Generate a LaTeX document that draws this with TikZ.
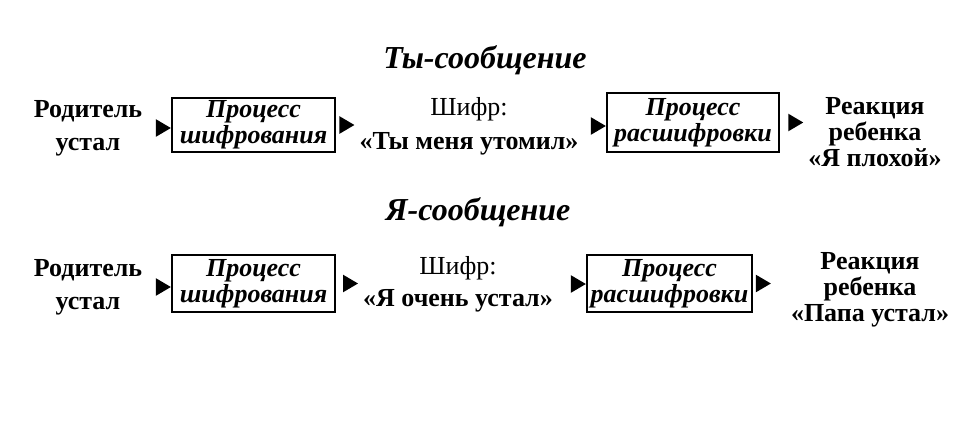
\documentclass[tikz,border=0pt]{standalone}
\usepackage{fontspec}
\setmainfont{Liberation Serif}
\usetikzlibrary{arrows.meta}

\begin{document}
\begin{tikzpicture}[x=25pt,y=25pt,line width=1.1pt,
  lbl/.style={font=\fontsize{13}{13}\selectfont\bfseries,align=center,inner sep=2pt},
  procbox/.style={draw,font=\fontsize{13}{13}\selectfont\bfseries\itshape,align=center,inner sep=1pt},
  heading/.style={font=\fontsize{16}{18}\selectfont\bfseries\itshape},
  flow/.style={white,-{Triangle[length=7.5pt,width=8.5pt,color=black]}}]
  \useasboundingbox (0,0) rectangle (19.3,8.4);
  % ty-soobshchenie
  \node[heading] (title1) at (9.7,7.2) {Ты-сообщение};
  \node[lbl] (par1) at (1.76,5.84) {Родитель\\[3.5pt]устал};
  \node[procbox,minimum width=81.5pt,minimum height=27pt] (enc1) at (5.07,5.9) {Процесс\\шифрования};
  \node[lbl] (code1) at (9.38,5.88) {{\mdseries Шифр:}\\[4pt]«Ты меня утомил»};
  \node[procbox,minimum width=86pt,minimum height=29.5pt] (dec1) at (13.86,5.95) {Процесс\\расшифровки};
  \node[lbl] (react1) at (17.5,5.76) {Реакция\\ребенка\\«Я плохой»};
  \draw[flow] (par1.east) -- (par1.east -| enc1.west);
  \draw[flow] (enc1.east) -- (enc1.east -| code1.west);
  \draw[flow] (code1.east) -- (code1.east -| dec1.west);
  \draw[flow] (dec1.east) -- (dec1.east -| react1.west);
  % ya-soobshchenie
  \node[heading] (title2) at (9.56,4.16) {Я-сообщение};
  \node[lbl] (par2) at (1.76,2.66) {Родитель\\[3.5pt]устал};
  \node[procbox,minimum width=81.5pt,minimum height=28.5pt] (enc2) at (5.07,2.73) {Процесс\\шифрования};
  \node[lbl] (code2) at (9.16,2.72) {{\mdseries Шифр:}\\[3pt]«Я очень устал»};
  \node[procbox,minimum width=82.5pt,minimum height=28.5pt] (dec2) at (13.39,2.73) {Процесс\\расшифровки};
  \node[lbl] (react2) at (17.4,2.6) {Реакция\\ребенка\\«Папа устал»};
  \draw[flow] (par2.east) -- (par2.east -| enc2.west);
  \draw[flow] (enc2.east) -- (enc2.east -| code2.west);
  \draw[flow] (code2.east) -- (code2.east -| dec2.west);
  \draw[flow,shorten >=7.5pt] (dec2.east) -- (dec2.east -| react2.west);
\end{tikzpicture}
\end{document}
